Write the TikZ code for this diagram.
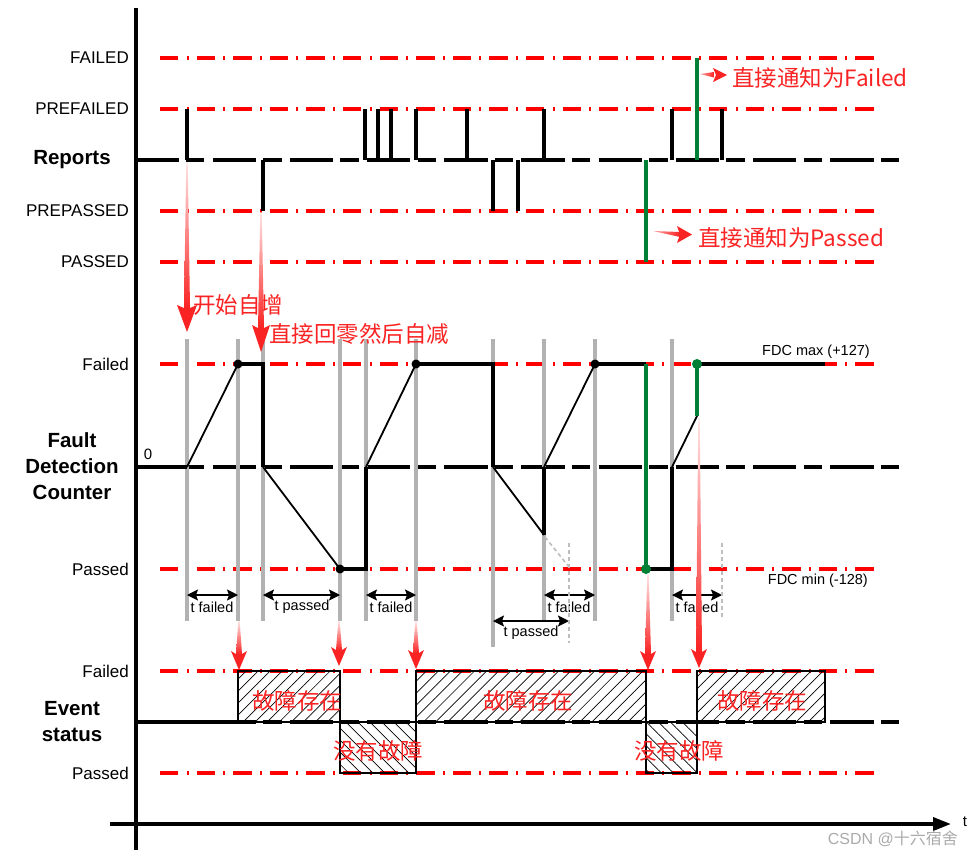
\documentclass[tikz,border=0pt]{standalone}
\usepackage{fontspec}
\setmainfont{Liberation Sans}
\newfontfamily\cjk{Noto Sans CJK SC}
\usetikzlibrary{arrows.meta,patterns.meta}
\definecolor{redl}{RGB}{255,0,0}
\definecolor{annored}{RGB}{250,35,35}
\definecolor{grn}{RGB}{0,128,55}
\definecolor{gry}{RGB}{178,178,178}
\definecolor{wm}{RGB}{170,170,170}
% x, ytop, ytip, head length, head half width
\newcommand\vtarrow[5]{%
 \shade[top color=annored!12, middle color=annored, bottom color=annored] (#1-0.7,#2) -- (#1+0.7,#2) -- (#1+3,#3-#4+1) -- (#1-3,#3-#4+1) -- cycle;
 \fill[annored] (#1-3,#3-#4+1) -- (#1-#5,#3-#4-2) -- (#1,#3) -- (#1+#5,#3-#4-2) -- (#1+3,#3-#4+1) -- cycle;}
\begin{document}
\begin{tikzpicture}[x=1pt,y=-1pt,
 reddd/.style={redl, line width=3.3pt, dash pattern=on 18.3pt off 8.3pt on 2pt off 8pt},
 basedash/.style={black, line width=3.3pt, dash pattern=on 43.3pt off 7.3pt on 18.3pt off 8.3pt},
 rep/.style={black, line width=3.1pt},
 thickk/.style={black, line width=3.3pt},
 ramp/.style={black, line width=1.8pt},
 grline/.style={gry, line width=3.2pt},
 grdash/.style={gry!85, line width=2.2pt, dash pattern=on 4pt off 3pt},
 grnline/.style={grn, line width=3.8pt},
 bdot/.style={circle, fill=black, inner sep=0pt, minimum size=9pt},
 gdot/.style={circle, fill=grn, inner sep=0pt, minimum size=10pt},
 lbl/.style={font=\fontsize{17}{19}\selectfont, anchor=east, inner sep=0pt},
 grp/.style={font=\bfseries\fontsize{20.5}{26}\selectfont, align=center, inner sep=0pt},
 smalltxt/.style={font=\fontsize{14.5}{16}\selectfont, inner sep=0pt},
 annotxt/.style={font=\cjk\fontsize{22.5}{26}\selectfont, text=annored, inner sep=0pt},
 dimarr/.style={black, line width=1.4pt, {Stealth[length=11pt,width=11pt,inset=2pt]}-{Stealth[length=11pt,width=11pt,inset=2pt]}},
 hne/.style={draw=black, line width=1.1pt, pattern={Lines[angle=45,distance=8.5pt,line width=0.7pt]}, pattern color=black},
 hnw/.style={draw=black, line width=1.1pt, pattern={Lines[angle=-45,distance=8.5pt,line width=0.7pt]}, pattern color=black}
]
\useasboundingbox (0,0) rectangle (974,857);

% red dash-dot levels
\foreach \yy in {58,109,211,262,364,569,671,773}
  \draw[reddd] (160,\yy) -- (875,\yy);
% black dashed baselines
\foreach \yy in {160,467,722}
  \draw[basedash] (135.4,\yy) -- (905,\yy);
\draw[thickk] (136,722) -- (238,722);

% axes
\draw[line width=3.6pt] (136,8) -- (136,850);
\draw[line width=3.6pt, -{Triangle[length=18pt,width=13pt]}] (110,824) -- (951,824);
\node[smalltxt, font=\fontsize{15}{17}\selectfont] (tlab) at (965,822) {t};

% reports pulses
\foreach \xx in {187,365,378,391,416,467,544,672,722}
  \draw[rep] (\xx,160) -- (\xx,109);
\foreach \xx in {263,493,518}
  \draw[rep] (\xx,160) -- (\xx,211);
\draw[grnline] (646,160) -- (646,262);
\draw[grnline] (697,160) -- (697,58);

% gray time markers
\foreach \xx in {187,238,263,340,366,416,544,595,672}
  \draw[grline] (\xx,339) -- (\xx,621);
\draw[grline] (493,339) -- (493,647);

% FDC trace
\draw[thickk] (136,467) -- (187,467);
\draw[ramp] (187,467) -- (238,364);
\draw[thickk] (238,364) -- (263,364) -- (263,467);
\draw[ramp] (263,467) -- (340,569);
\draw[thickk] (340,569) -- (366,569) -- (366,467);
\draw[ramp] (366,467) -- (416,364);
\draw[thickk] (416,364) -- (493,364) -- (493,467);
\draw[ramp] (493,467) -- (544,535);
\draw[thickk] (544,535) -- (544,467);
\draw[ramp] (544,467) -- (595,364);
\draw[grdash, line width=1.6pt] (545,537) -- (569,567);
\draw[thickk] (595,364) -- (646,364);
\draw[grnline] (646,364) -- (646,569);
\draw[thickk] (646,569) -- (672,569) -- (672,467);
\draw[ramp] (672,467) -- (697,416);
\draw[grnline] (697,416) -- (697,364);
\draw[thickk] (697,364) -- (825,364);
\node[bdot] (d1) at (238,364) {};
\node[bdot] (d2) at (340,569) {};
\node[bdot] (d3) at (416,364) {};
\node[bdot] (d4) at (595,364) {};
\node[gdot] (g1) at (646,569) {};
\node[gdot] (g2) at (697,364) {};

% time interval arrows
\draw[dimarr] (187,595) -- (238,595);
\draw[dimarr] (263,595) -- (340,595);
\draw[dimarr] (366,595) -- (416,595);
\draw[dimarr] (544,595) -- (595,595);
\draw[dimarr] (672,595) -- (722,595);
\draw[dimarr] (493,621) -- (569,621);
\node[smalltxt] (tf1) at (212,607) {t failed};
\node[smalltxt] (tp1) at (302,607) {t passed};
\node[smalltxt] (tf2) at (391,607) {t failed};
\node[smalltxt] (tf3) at (569,607) {t failed};
\node[smalltxt] (tf4) at (697,607) {t failed};
\node[smalltxt] (tp2) at (531,633) {t passed};
\draw[grdash] (569,543) -- (569,643);
\draw[grdash] (722,543) -- (722,617);

\node[smalltxt, anchor=west] (fmax) at (762,352) {FDC max (+127)};
\node[smalltxt, anchor=east] (fmin) at (868,581) {FDC min (-128)};
\node[smalltxt, font=\fontsize{15}{17}\selectfont] (zero) at (148,454) {0};

% event status boxes
\draw[hne] (238,671) rectangle (340,722);
\draw[hnw] (340,722) rectangle (416,773);
\draw[hne] (416,671) rectangle (646,722);
\draw[hnw] (646,722) rectangle (697,773);
\draw[hne] (697,671) rectangle (825,722);
\node[annotxt] (e1) at (297,701) {故障存在};
\node[annotxt] (e2) at (378,751) {没有故障};
\node[annotxt] (e3) at (528,701) {故障存在};
\node[annotxt] (e4) at (679,751) {没有故障};
\node[annotxt] (e5) at (762,701) {故障存在};

% left labels
\node[lbl] (lF) at (129,58) {FAILED};
\node[lbl] (lPF) at (129,109) {PREFAILED};
\node[grp] (lR) at (72,160) {Reports};
\node[lbl] (lPP) at (129,211) {PREPASSED};
\node[lbl] (lP) at (129,262) {PASSED};
\node[lbl] (fF) at (129,364) {Failed};
\node[grp] (fT) at (72,466) {Fault\\Detection\\Counter};
\node[lbl] (fP) at (129,569) {Passed};
\node[lbl] (eF) at (129,671) {Failed};
\node[grp] (eT) at (72,722) {Event\\status};
\node[lbl] (eP) at (129,773) {Passed};

% annotations
\node[annotxt, anchor=west] (a1) at (193,305) {开始自增};
\node[annotxt, anchor=west] (a2) at (269,334) {直接回零然后自减};
\node[annotxt, anchor=west] (a3) at (732,78) {直接通知为Failed};
\node[annotxt, anchor=west] (a4) at (698,238) {直接通知为Passed};

% red arrows
\vtarrow{187}{162}{332}{25}{10}
\vtarrow{261}{212}{352}{25}{9}
\vtarrow{239}{621}{670}{17}{8}
\vtarrow{339}{621}{666}{17}{8}
\vtarrow{416}{621}{669}{17}{8}
\vtarrow{648}{574}{670}{17}{8}
\vtarrow{699}{418}{668}{17}{8}
\shade[left color=annored!40, right color=annored] (700,74) -- (714,72) -- (714,77.5) -- cycle;
\fill[annored] (713,68) -- (727,75) -- (713,82) -- (716,75) -- cycle;
\shade[left color=annored!40, right color=annored] (653,231) -- (680,232) -- (680,237) -- cycle;
\fill[annored] (677,226) -- (692,234.5) -- (677,243) -- (680,234.5) -- cycle;

% watermark
\node[font=\fontsize{16}{18}\selectfont, text=wm, anchor=east, inner sep=0pt] (wmk) at (958,839) {CSDN @{\cjk 十六宿舍}};
\end{tikzpicture}
\end{document}
